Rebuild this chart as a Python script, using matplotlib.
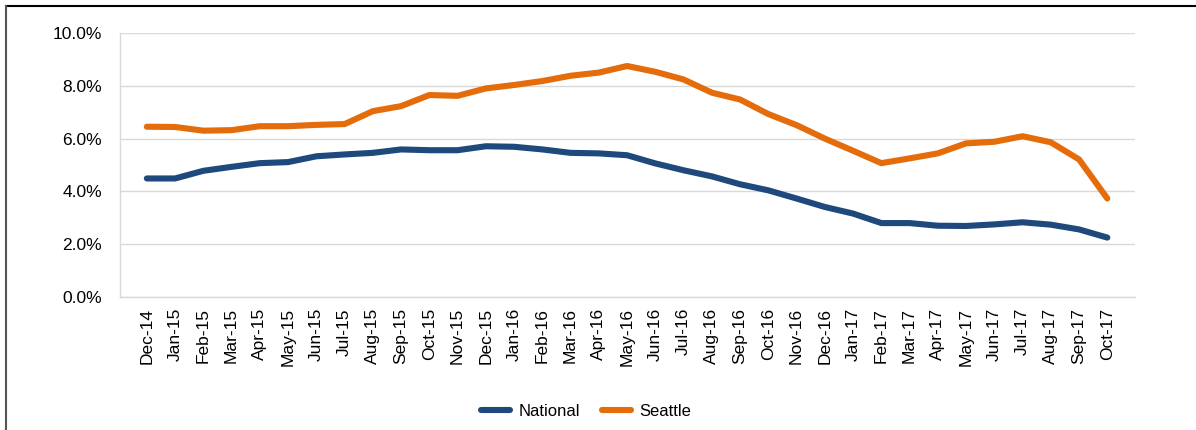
import matplotlib
matplotlib.use("Agg")
import matplotlib.pyplot as plt
from matplotlib.lines import Line2D
from matplotlib.ticker import FuncFormatter

plt.rcParams["font.family"] = ["Liberation Sans", "DejaVu Sans"]

months = ["Dec-14",
          "Jan-15", "Feb-15", "Mar-15", "Apr-15", "May-15", "Jun-15",
          "Jul-15", "Aug-15", "Sep-15", "Oct-15", "Nov-15", "Dec-15",
          "Jan-16", "Feb-16", "Mar-16", "Apr-16", "May-16", "Jun-16",
          "Jul-16", "Aug-16", "Sep-16", "Oct-16", "Nov-16", "Dec-16",
          "Jan-17", "Feb-17", "Mar-17", "Apr-17", "May-17", "Jun-17",
          "Jul-17", "Aug-17", "Sep-17", "Oct-17"]

# values in percent
national = [4.49, 4.49, 4.78, 4.93, 5.07, 5.11, 5.33, 5.40, 5.46, 5.59, 5.56, 5.56, 5.71,
            5.69, 5.59, 5.46, 5.44, 5.37, 5.06, 4.80, 4.57, 4.27, 4.04, 3.73, 3.41,
            3.16, 2.80, 2.80, 2.70, 2.69, 2.75, 2.83, 2.74, 2.56, 2.25]
seattle = [6.45, 6.44, 6.30, 6.32, 6.47, 6.47, 6.52, 6.55, 7.04, 7.23, 7.65, 7.62, 7.90,
           8.03, 8.18, 8.38, 8.50, 8.75, 8.53, 8.24, 7.74, 7.48, 6.93, 6.51, 6.00,
           5.54, 5.07, 5.25, 5.44, 5.82, 5.88, 6.09, 5.86, 5.21, 3.73]

NAT_COLOR = "#1F497D"
SEA_COLOR = "#E46C0A"

fig = plt.figure(figsize=(11.96, 4.30), dpi=100)
ax = fig.add_axes([120 / 1196, 133 / 430, 1015 / 1196, 264 / 430])

x = range(len(months))
ax.plot(x, national, color=NAT_COLOR, linewidth=4.4, label="National",
        solid_capstyle="round", solid_joinstyle="round")
ax.plot(x, seattle, color=SEA_COLOR, linewidth=4.4, label="Seattle",
        solid_capstyle="round", solid_joinstyle="round")

ax.set_xlim(-0.95, 34.98)
ax.set_ylim(0, 10)
ax.set_yticks([0, 2, 4, 6, 8, 10])
ax.yaxis.set_major_formatter(FuncFormatter(lambda v, p: f"{v:.1f}%"))
ax.set_xticks(list(x))
ax.set_xticklabels(months, rotation=90)
ax.tick_params(axis="both", length=0, labelsize=12.5, colors="#000000")
ax.tick_params(axis="y", pad=13)
ax.tick_params(axis="x", pad=8)

ax.yaxis.grid(True, color="#D9D9D9", linewidth=1)
ax.set_axisbelow(True)
for side in ["top", "right"]:
    ax.spines[side].set_visible(False)
for side in ["left", "bottom"]:
    ax.spines[side].set_color("#D9D9D9")
    ax.spines[side].set_linewidth(1)

fig.legend(loc="center", bbox_to_anchor=(0.49, 1 - 411 / 430), ncol=2,
           frameon=False, fontsize=12, handlelength=1.75, columnspacing=1.3,
           handletextpad=0.5)

# outer frame (top and left only)
fig.add_artist(Line2D([6 / 1196, 1], [1 - 6 / 430, 1 - 6 / 430],
                      color="#000000", linewidth=1.5))
fig.add_artist(Line2D([6 / 1196, 6 / 1196], [0, 1 - 6 / 430],
                      color="#555555", linewidth=1.5))

fig.savefig("out.png", dpi=100)
